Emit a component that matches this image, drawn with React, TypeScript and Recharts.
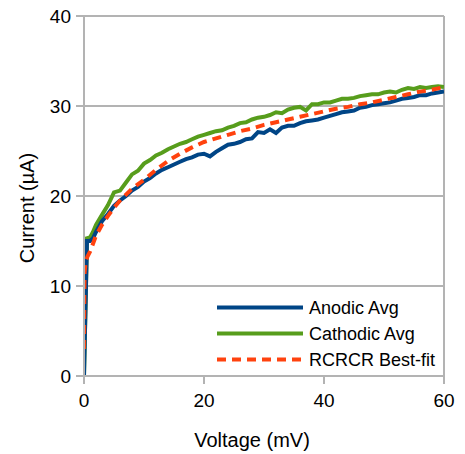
// Current vs voltage -- anodic / cathodic averages with fitted curve, recharts.

import { CartesianGrid, Line, LineChart, ReferenceLine, XAxis, YAxis } from "recharts";

const anodicV = [
	0, 0.5, 1, 1.5, 2, 3, 4, 5, 6, 7, 8, 9, 10, 11, 12, 13, 14, 15, 16, 17, 18, 19, 20, 21, 22, 23, 24, 25, 26, 27, 28,
	29, 30, 31, 32, 33, 34, 35, 36, 37, 38, 39, 40, 41, 42, 43, 44, 45, 46, 47, 48, 49, 50, 51, 52, 53, 54, 55, 56,
	57, 58, 59, 60,
];
const anodicI = [
	0, 15.0, 15.0, 15.3, 16.0, 17.2, 18.0, 18.9, 19.5, 20.0, 20.6, 21.0, 21.6, 22.0, 22.5, 22.9, 23.2, 23.5, 23.8,
	24.1, 24.3, 24.6, 24.7, 24.4, 24.9, 25.3, 25.7, 25.8, 26.0, 26.3, 26.4, 27.1, 27.0, 27.4, 27.0, 27.6, 27.8, 27.8,
	28.1, 28.3, 28.4, 28.5, 28.7, 28.9, 29.1, 29.3, 29.4, 29.5, 29.8, 29.9, 30.1, 30.2, 30.3, 30.4, 30.6, 30.8, 30.9,
	31.0, 31.2, 31.2, 31.4, 31.5, 31.6,
];

const cathodicV = anodicV;
const cathodicI = [
	0, 15.3, 15.4, 16.0, 16.8, 17.9, 19.0, 20.4, 20.6, 21.5, 22.4, 22.8, 23.6, 24.0, 24.5, 24.8, 25.2, 25.5, 25.8,
	26.0, 26.3, 26.6, 26.8, 27.0, 27.2, 27.3, 27.6, 27.8, 28.1, 28.2, 28.5, 28.7, 28.8, 29.0, 29.3, 29.2, 29.6, 29.8,
	29.9, 29.5, 30.2, 30.2, 30.4, 30.4, 30.6, 30.8, 30.8, 30.9, 31.1, 31.2, 31.3, 31.3, 31.5, 31.6, 31.5, 31.8, 32.0,
	31.9, 32.1, 32.0, 32.1, 32.2, 32.1,
];

const fitV = [
	0, 0.05, 0.1, 0.3, 0.6, 1, 2, 3, 4, 5, 6, 8, 10, 12, 14, 16, 18, 20, 22, 24, 26, 28, 30, 32, 34, 36, 38, 40, 42,
	44, 46, 48, 50, 52, 54, 56, 58, 60,
];
const fitI = [
	3.0, 9.0, 11.5, 12.8, 13.3, 13.8, 15.6, 16.8, 17.8, 18.7, 19.5, 20.8, 21.8, 22.9, 23.9, 24.7, 25.4, 26.0, 26.4,
	26.8, 27.2, 27.5, 27.9, 28.2, 28.5, 28.8, 29.1, 29.4, 29.7, 29.9, 30.2, 30.4, 30.7, 31.0, 31.3, 31.6, 31.8, 32.1,
];

const xTicks = [0, 20, 40, 60];
const yTicks = [0, 10, 20, 30, 40];

const seriesNames = ["Anodic Avg", "Cathodic Avg", "RCRCR Best-fit"];
const BLUE = "#004586";
const GREEN = "#579d1c";
const ORANGE = "#ff420e";
const GRID = "#b3b3b3";
const FONT = '"Liberation Sans", Arial, sans-serif';

const toPoints = (xs: number[], ys: number[]) => xs.map((x, i) => ({ v: x, i: ys[i] }));

const anodic = toPoints(anodicV, anodicI);
const cathodic = toPoints(cathodicV, cathodicI);
const fit = toPoints(fitV, fitI);

// legend sits inside the plot, bottom right; drawn outside recharts so it takes no layout space
function ChartLegend() {
	const rows = [
		{ name: seriesNames[0], color: BLUE, dash: undefined },
		{ name: seriesNames[1], color: GREEN, dash: undefined },
		{ name: seriesNames[2], color: ORANGE, dash: "9 6" },
	];
	return (
		<svg width={240} height={80} style={{ position: "absolute", left: 215, top: 294 }}>
			{rows.map((r, k) => {
				const y = 13.5 + k * 26;
				return (
					<g key={r.name}>
						<line x1={2} x2={88} y1={y} y2={y} stroke={r.color} strokeWidth={4} strokeDasharray={r.dash} />
						<text x={94} y={y} dominantBaseline="central" fontSize={18} fill="#000" fontFamily={FONT}>
							{r.name}
						</text>
					</g>
				);
			})}
		</svg>
	);
}

export default function App() {
	const tick = { fontSize: 19, fill: "#000", fontFamily: FONT };
	return (
		<div style={{ position: "absolute", left: 0, top: 0, width: 465, height: 454, fontFamily: FONT }}>
			<LineChart width={465} height={454} margin={{ top: 16, right: 21, bottom: 0, left: 0 }}>
				<CartesianGrid vertical={false} stroke={GRID} strokeWidth={2} />
				<XAxis
					dataKey="v"
					type="number"
					domain={[0, 60]}
					ticks={xTicks}
					allowDataOverflow
					height={78}
					tickSize={8}
					tickMargin={10}
					stroke={GRID}
					strokeWidth={2}
					tick={tick}
					label={{
						content: () => (
							<text x={252} y={440} textAnchor="middle" dominantBaseline="central" fontSize={20} fill="#000" fontFamily={FONT}>
								Voltage (mV)
							</text>
						),
					}}
				/>
				<YAxis
					type="number"
					domain={[0, 40]}
					ticks={yTicks}
					width={84}
					tickSize={8}
					tickMargin={5}
					stroke={GRID}
					strokeWidth={2}
					tick={tick}
					label={{
						content: () => (
							<text
								x={27}
								y={208}
								transform="rotate(-90 27 208)"
								textAnchor="middle"
								dominantBaseline="central"
								fontSize={20}
								fill="#000"
								fontFamily={FONT}
							>
								Current (µA)
							</text>
						),
					}}
				/>
				<ReferenceLine x={60} stroke={GRID} strokeWidth={2} />
				<Line data={cathodic} dataKey="i" name={seriesNames[1]} stroke={GREEN} strokeWidth={4} dot={false} isAnimationActive={false} />
				<Line data={anodic} dataKey="i" name={seriesNames[0]} stroke={BLUE} strokeWidth={4} dot={false} isAnimationActive={false} />
				<Line
					data={fit}
					dataKey="i"
					name={seriesNames[2]}
					stroke={ORANGE}
					strokeWidth={4}
					strokeDasharray="9 6"
					dot={false}
					isAnimationActive={false}
				/>
			</LineChart>
			<ChartLegend />
		</div>
	);
}
